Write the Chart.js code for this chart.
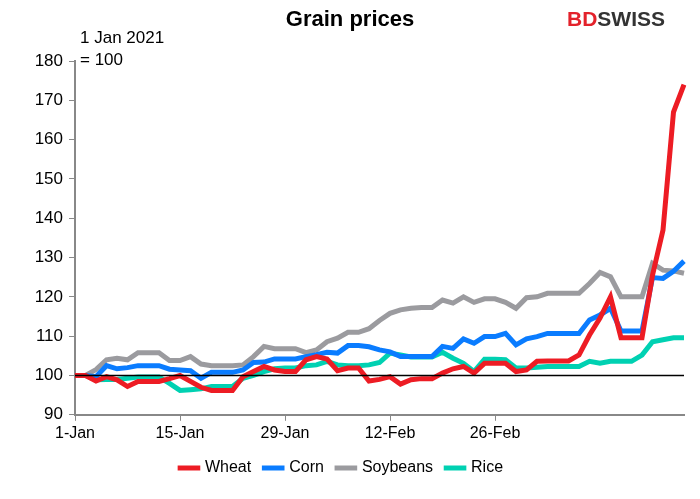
<!DOCTYPE html>
<html><head><meta charset="utf-8">
<script src="https://cdn.jsdelivr.net/npm/chart.js@4"></script>
<style>html,body{margin:0;padding:0;background:#fff}#w{width:700px;height:499px}</style>
</head><body><div id="w"><canvas id="c"></canvas></div>
<script>
const categories = ["1-Jan","4-Jan","5-Jan","6-Jan","7-Jan","8-Jan","11-Jan","12-Jan","13-Jan","14-Jan",
"15-Jan","18-Jan","19-Jan","20-Jan","21-Jan","22-Jan","25-Jan","26-Jan","27-Jan","28-Jan",
"29-Jan","1-Feb","2-Feb","3-Feb","4-Feb","5-Feb","8-Feb","9-Feb","10-Feb","11-Feb",
"12-Feb","15-Feb","16-Feb","17-Feb","18-Feb","19-Feb","22-Feb","23-Feb","24-Feb","25-Feb",
"26-Feb","1-Mar","2-Mar","3-Mar","4-Mar","5-Mar","8-Mar","9-Mar","10-Mar","11-Mar",
"12-Mar","15-Mar","16-Mar","17-Mar","18-Mar","19-Mar","22-Mar","23-Mar","24-Mar"];
const tickLabels = ["1-Jan","15-Jan","29-Jan","12-Feb","26-Feb"];
const wheat = [100,100,98.6,99.7,98.9,97.2,98.5,98.5,98.5,99.2,100,98.5,97,96.2,96.2,96.2,99.7,101,102.3,101.4,
101,101,104,104.8,104.2,101.2,101.9,101.9,98.6,99,99.7,97.8,98.9,99.2,99.2,100.6,101.7,102.3,100.6,103.1,
103.1,103.1,101,101.4,103.6,103.7,103.7,103.7,105.2,110.3,114.6,120,109.6,109.6,109.6,125.5,137,167,174];
const corn = [100,100,99.7,102.5,101.7,102,102.5,102.5,102.5,101.6,101.4,101.2,99.3,100.8,100.8,100.8,101.4,103.3,103.4,104.2,
104.2,104.2,104.8,105.3,105.9,105.7,107.6,107.6,107.3,106.5,106,104.8,104.8,104.8,104.8,107.4,106.9,109.3,108.2,109.9,
109.9,110.7,107.8,109.3,109.9,110.7,110.7,110.7,110.7,114.1,115.4,117.1,111.3,111.3,111.3,124.9,124.7,126.5,129.1];
const soybeans = [100,100,101.5,104,104.4,104,105.8,105.8,105.8,103.8,103.8,104.8,102.9,102.5,102.5,102.5,102.7,104.8,107.4,106.8,
106.8,106.8,105.8,106.5,108.6,109.5,111,111,111.9,114,115.8,116.7,117.1,117.3,117.3,119.2,118.4,120,118.6,119.5,
119.5,118.6,117.1,119.8,120,120.9,120.9,120.9,120.9,123.4,126.2,125.1,120,120,120,128.5,126.8,126.6,126];
const rice = [100,100,98.9,99,99,99.3,99.6,99.6,99.6,98,96.2,96.4,96.6,97.2,97.2,97.2,99.3,100,101,101.7,
101.9,101.9,102.5,102.7,103.6,102.7,102.5,102.5,102.7,103.3,105.7,105.2,104.7,104.7,104.7,105.9,104.4,103.1,101,104.1,
104.1,104,101.9,101.9,102.1,102.3,102.3,102.3,102.3,103.6,103.1,103.6,103.6,103.6,105.2,108.6,109.1,109.6,109.6];
const seriesNames = ["Wheat","Corn","Soybeans","Rice"];
const seriesColors = ["#ED1C24","#0A7CFF","#9B9B9F","#00D1B2"];
const yTicks = [90,100,110,120,130,140,150,160,170,180];
const FONT = "'Liberation Sans', Arial, sans-serif";

const overlay = {
  id:'overlay',
  afterDatasetsDraw(ch){
    const c=ch.ctx, a=ch.chartArea, y=ch.scales.y.getPixelForValue(100);
    c.save();
    c.strokeStyle='#000'; c.lineWidth=1.5;
    c.beginPath(); c.moveTo(a.left,y); c.lineTo(a.right,y); c.stroke();
    c.fillStyle='#000'; c.textBaseline='middle';
    c.font='bold 22px '+FONT; c.textAlign='center'; c.fillText('Grain prices',350,20);
    c.font='17px '+FONT; c.textAlign='left';
    c.fillText('1 Jan 2021',80,38); c.fillText('= 100',80,60);
    c.font='bold 21px '+FONT; c.textAlign='left';
    c.fillStyle='#E3222B'; c.fillText('BD',567,20);
    const w=c.measureText('BD').width;
    c.fillStyle='#333'; c.fillText('SWISS',567+w,20);
    c.restore();
  }
};

new Chart(document.getElementById('c'),{
  type:'line',
  data:{labels:categories,datasets:[wheat,corn,soybeans,rice].map((d,i)=>({
    label:seriesNames[i],data:d,borderColor:seriesColors[i],backgroundColor:seriesColors[i],
    borderWidth:5,pointRadius:0,tension:0,fill:false}))},
  options:{
    responsive:true,maintainAspectRatio:false,animation:false,
    layout:{padding:{top:61,right:16,left:0,bottom:13}},
    plugins:{title:{display:false},tooltip:{enabled:false},
      legend:{position:'bottom',labels:{usePointStyle:true,pointStyle:'line',boxWidth:40,padding:14,
        color:'#000',font:{size:16,family:FONT},
        generateLabels(ch){return ch.data.datasets.map((d,i)=>({text:d.label,strokeStyle:d.borderColor,fillStyle:d.borderColor,lineWidth:5,pointStyle:'line',datasetIndex:i,fontColor:'#000'}));}}}},
    scales:{
      x:{offset:false,grid:{drawOnChartArea:false,color:(ctx)=>(ctx.index%10===0&&ctx.index<=40)?'#888':'rgba(0,0,0,0)',tickLength:6},
        border:{color:'#888',width:2},
        ticks:{autoSkip:false,maxRotation:0,color:'#000',font:{size:16,family:FONT},
          callback:(v,i)=>(i%10===0&&tickLabels.includes(categories[i]))?categories[i]:''}},
      y:{min:90,max:180,afterFit:s=>{s.width=75;},afterBuildTicks:s=>{s.ticks=yTicks.map(v=>({value:v}));},
        grid:{drawOnChartArea:false,color:'#888',tickLength:6},border:{color:'#888',width:2},
        ticks:{color:'#000',font:{size:17,family:FONT},padding:6}}
    }
  },
  plugins:[overlay]
});
</script></body></html>
